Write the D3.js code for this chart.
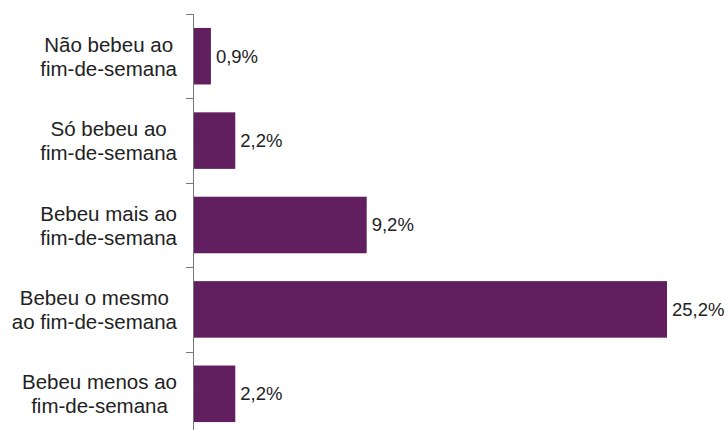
<!DOCTYPE html>
<meta charset="utf-8">
<script src="https://d3js.org/d3.v7.min.js"></script>
<style>
  body { margin: 0; background: #fff; }
  text { font-family: "Liberation Sans", Arial, sans-serif; fill: #222; }
</style>
<svg width="725" height="430"></svg>
<script>
var categories = [
  ["Não bebeu ao", "fim-de-semana"],
  ["Só bebeu ao", "fim-de-semana"],
  ["Bebeu mais ao", "fim-de-semana"],
  ["Bebeu o mesmo", "ao fim-de-semana"],
  ["Bebeu menos ao", "fim-de-semana"]
];
var values = [0.9, 2.2, 9.2, 25.2, 2.2];
var valueLabels = ["0,9%", "2,2%", "9,2%", "25,2%", "2,2%"];

var svg = d3.select("svg");
var axisX = 193;

var y = d3.scaleBand()
    .domain(d3.range(categories.length))
    .range([14, 436])
    .paddingInner(0.33)
    .paddingOuter(0.165);

var x = d3.scaleLinear()
    .domain([0, 25.2])
    .range([axisX + 1, 667]);

// bars
svg.append("g").selectAll("rect")
    .data(values)
    .enter().append("rect")
    .attr("x", x(0))
    .attr("y", function(d, i) { return y(i); })
    .attr("width", function(d) { return x(d) - x(0); })
    .attr("height", y.bandwidth())
    .attr("fill", "#621f60");

// value labels
svg.append("g").selectAll("text")
    .data(values)
    .enter().append("text")
    .attr("x", function(d) { return x(d) + 5; })
    .attr("y", function(d, i) { return y(i) + y.bandwidth() / 2; })
    .attr("dy", "0.35em")
    .style("font-size", "18.5px")
    .text(function(d, i) { return valueLabels[i]; });

// axis line + ticks at category boundaries
var ag = svg.append("g").attr("stroke", "#777").attr("stroke-width", 1);
ag.append("line")
    .attr("x1", axisX + 0.5).attr("x2", axisX + 0.5)
    .attr("y1", 14).attr("y2", 436);
ag.selectAll("line.tick")
    .data(d3.range(categories.length + 1))
    .enter().append("line")
    .attr("class", "tick")
    .attr("x1", axisX - 7).attr("x2", axisX + 0.5)
    .attr("y1", function(i) { return Math.round(14 + i * y.step()) + 0.5; })
    .attr("y2", function(i) { return Math.round(14 + i * y.step()) + 0.5; });

// category labels: lines centred within a block whose right edge is at x=177
var labelRight = 177;
var lab = svg.append("g").selectAll("text")
    .data(categories)
    .enter().append("text")
    .attr("text-anchor", "middle")
    .style("font-size", "20.5px")
    .attr("y", function(d, i) { return y(i) + y.bandwidth() / 2 - 4.5; });
lab.selectAll("tspan")
    .data(function(d) { return d; })
    .enter().append("tspan")
    .attr("dy", function(d, j) { return j === 0 ? 0 : 24; })
    .text(function(d) { return d; });
lab.each(function() {
  var w = 0;
  d3.select(this).selectAll("tspan").each(function() {
    w = Math.max(w, this.getComputedTextLength());
  });
  d3.select(this).selectAll("tspan").attr("x", labelRight - w / 2);
});
</script>
